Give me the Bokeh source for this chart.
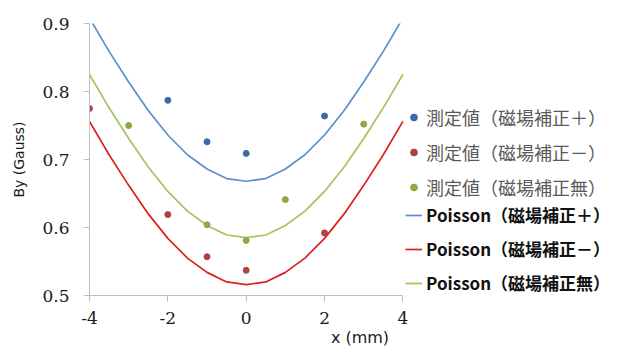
from bokeh.plotting import figure
from bokeh.models import Range1d, Legend, LegendItem, FixedTicker
from bokeh.embed import file_html
from bokeh.resources import INLINE

# measured values
x_plus = [-2, -1, 0, 2]
y_plus = [0.787, 0.726, 0.709, 0.764]
x_minus = [-4, -2, -1, 0, 2]
y_minus = [0.775, 0.619, 0.557, 0.537, 0.592]
x_none = [-3, -1, 0, 1, 3]
y_none = [0.750, 0.604, 0.581, 0.641, 0.752]

# Poisson curves, read at 0.5 mm steps
x_fit = [-4, -3.5, -3, -2.5, -2, -1.5, -1, -0.5, 0, 0.5, 1, 1.5, 2, 2.5, 3, 3.5, 4]
fit_plus = [0.908, 0.859, 0.814, 0.772, 0.736, 0.707, 0.686, 0.672, 0.668,
            0.672, 0.686, 0.707, 0.736, 0.772, 0.814, 0.859, 0.908]
fit_minus = [0.756, 0.707, 0.662, 0.620, 0.584, 0.555, 0.534, 0.520, 0.516,
             0.520, 0.534, 0.555, 0.584, 0.620, 0.662, 0.707, 0.756]
fit_none = [0.825, 0.776, 0.731, 0.689, 0.653, 0.624, 0.603, 0.589, 0.585,
            0.589, 0.603, 0.624, 0.653, 0.689, 0.731, 0.776, 0.825]

x_ticks = [-4, -2, 0, 2, 4]
x_tick_labels = ["-4", "-2", "0", "2", "4"]
y_ticks = [0.5, 0.6, 0.7, 0.8, 0.9]

labels_meas = ["測定値（磁場補正＋）", "測定値（磁場補正－）", "測定値（磁場補正無）"]
labels_fit = ["Poisson（磁場補正＋）", "Poisson（磁場補正－）", "Poisson（磁場補正無）"]

dot_colors = ["#3B6AA6", "#B0413E", "#8BAA3F"]
line_colors = ["#5A8FD0", "#DD1F1F", "#A3C55C"]

p = figure(width=630, height=349, x_range=Range1d(-4, 9.81), y_range=Range1d(0.5, 0.9),
           output_backend="svg", toolbar_location=None,
           min_border_left=89, min_border_right=0, min_border_top=23, min_border_bottom=51)
p.outline_line_color = None
p.grid.visible = False

for ax in (p.xaxis[0], p.yaxis[0]):
    ax.axis_line_color = "#BFBFBF"
    ax.major_tick_line_color = "#BFBFBF"
    ax.minor_tick_line_color = None
    ax.major_tick_in = 0
    ax.major_tick_out = 6
    ax.major_label_text_font = "DejaVu Serif"
    ax.major_label_text_font_size = "17px"
    ax.major_label_text_color = "#1A1A1A"
    ax.axis_label_text_font_style = "normal"
    ax.axis_label_text_color = "#1A1A1A"
    ax.axis_label_text_font = "DejaVu Sans"

p.xaxis.ticker = FixedTicker(ticks=x_ticks)
p.xaxis.major_label_overrides = {t: s for t, s in zip(x_ticks, x_tick_labels)}
p.xaxis.bounds = (-4, 4)
p.xaxis.axis_label = "x (mm)"
p.xaxis.axis_label_text_font_size = "16px"
p.xaxis.major_label_standoff = 10
p.xaxis.axis_label_standoff = 1

p.yaxis.ticker = FixedTicker(ticks=y_ticks)
p.yaxis.axis_label = "By (Gauss)"
p.yaxis.axis_label_text_font_size = "14px"
p.yaxis.major_label_standoff = 14
p.yaxis.axis_label_standoff = 12

l1 = p.line(x_fit, fit_plus, line_color=line_colors[0], line_width=1.7)
l2 = p.line(x_fit, fit_minus, line_color=line_colors[1], line_width=1.7)
l3 = p.line(x_fit, fit_none, line_color=line_colors[2], line_width=1.7)

s1 = p.scatter(x_plus, y_plus, size=6, color=dot_colors[0])
s2 = p.scatter(x_minus, y_minus, size=6, color=dot_colors[1])
s3 = p.scatter(x_none, y_none, size=6, color=dot_colors[2])

common = dict(orientation="vertical", background_fill_alpha=0, border_line_color=None,
              glyph_width=17, glyph_height=18, label_height=18, spacing=9,
              padding=0, margin=0, label_standoff=4)

leg1 = Legend(items=[LegendItem(label=labels_meas[i], renderers=[r]) for i, r in enumerate([s1, s2, s3])],
              location=(316, 95), label_text_font="Noto Sans CJK JP",
              label_text_font_size="18px", label_text_color="#595959", **common)
leg2 = Legend(items=[LegendItem(label=labels_fit[i], renderers=[r]) for i, r in enumerate([l1, l2, l3])],
              location=(316, 0), label_text_font="Noto Sans CJK JP",
              label_text_font_size="17px", label_text_font_style="bold",
              label_text_color="#111111", **common)
p.add_layout(leg1)
p.add_layout(leg2)

open("out.html", "w").write(file_html(p, INLINE))
